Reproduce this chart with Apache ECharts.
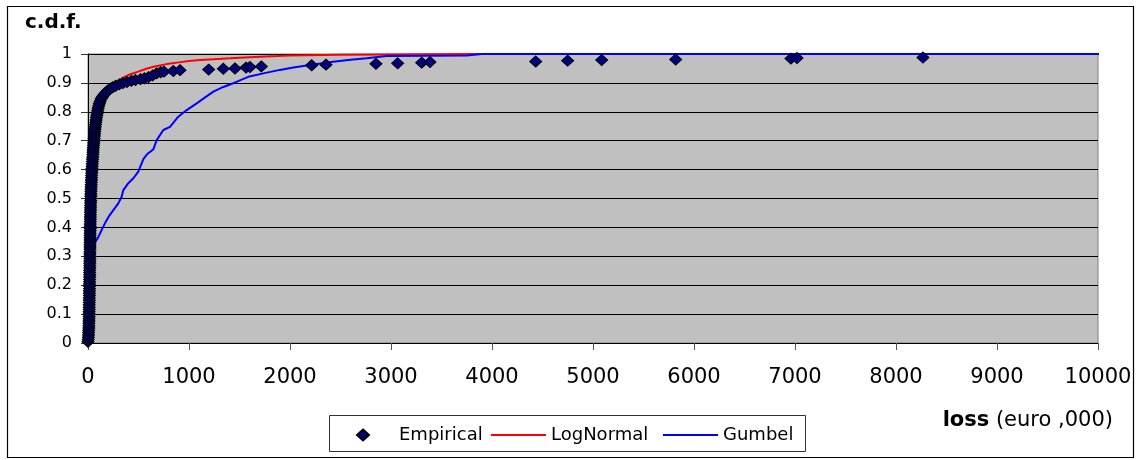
<!DOCTYPE html>
<html><head><meta charset="utf-8">
<script src="https://cdn.jsdelivr.net/npm/echarts@6/dist/echarts.min.js"></script>
<style>html,body{margin:0;padding:0;background:#fff}#c{width:1142px;height:460px}</style>
</head><body><div id="c"></div><script>
// ---- data ----
const seriesNames = ['Empirical', 'LogNormal', 'Gumbel'];
const yTickLabels = ['0','0.1','0.2','0.3','0.4','0.5','0.6','0.7','0.8','0.9','1'];
const xTickLabels = ['0','1000','2000','3000','4000','5000','6000','7000','8000','9000','10000'];

const empLoss = [0,2,4,5,6,7,8,9,9,10,10,11,11,11,12,12,12,13,13,13,14,14,14,15,15,15,16,16,16,17,
  17,17,18,18,18,18,19,19,19,19,20,20,20,20,21,21,21,21,22,22,22,22,23,23,23,24,24,25,25,26,
  26,27,27,28,28,29,30,31,32,33,34,35,36,37,38,39,41,42,44,45,47,48,50,51,53,55,57,59,61,63,
  65,67,70,72,75,78,81,84,88,92,96,101,106,112,
  120,130,140,152,165,180,198,220,245,275,310,345,385,430,470,520,560,600,640,680,720,752,845,911,
  1195,1340,1455,1565,1604,1716,2215,2356,2851,3066,3304,3386,4433,4749,5086,5819,6960,7020,8267];
const empCdf = [0.004,0.012,0.020,0.028,0.036,0.044,0.052,0.060,0.068,0.076,0.084,0.092,0.100,0.108,0.116,0.124,0.132,0.140,0.148,0.156,0.164,0.172,0.180,0.188,0.196,0.204,0.212,0.220,0.228,0.236,
  0.244,0.252,0.260,0.268,0.276,0.284,0.292,0.300,0.308,0.316,0.324,0.332,0.340,0.348,0.356,0.364,0.372,0.380,0.388,0.396,0.404,0.412,0.420,0.428,0.436,0.444,0.452,0.460,0.468,0.476,
  0.484,0.492,0.500,0.508,0.516,0.524,0.532,0.540,0.548,0.556,0.564,0.572,0.580,0.588,0.596,0.604,0.612,0.620,0.628,0.636,0.644,0.652,0.660,0.668,0.676,0.684,0.692,0.700,0.708,0.716,
  0.724,0.732,0.740,0.748,0.756,0.764,0.772,0.780,0.788,0.796,0.804,0.812,0.820,0.828,
  0.836,0.844,0.850,0.856,0.862,0.868,0.874,0.880,0.885,0.890,0.895,0.899,0.903,0.907,0.910,0.913,0.916,0.920,0.926,0.933,0.937,0.939,0.941,0.944,
  0.946,0.949,0.950,0.953,0.955,0.957,0.961,0.963,0.966,0.968,0.970,0.972,0.974,0.977,0.979,0.981,0.984,0.986,0.988];

const lnLoss = [0,3,8,15,30,55,90,140,200,270,350,420,498,570,647,779,900,1000,1109,1250,1406,1600,1868,2000,2500,2950,3850,10090];
const lnCdf  = [0,0.15,0.30,0.45,0.60,0.70,0.78,0.84,0.875,0.90,0.919,0.930,0.939,0.948,0.956,0.965,0.971,0.976,0.979,0.982,0.985,0.989,0.993,0.995,0.997,0.998,1.0,1.0];

const gbLoss = [60,96,135,168,210,251,300,333,350,399,449,498,548,590,647,680,746,812,894,977,1076,1160,1241,1340,1439,1587,1736,1900,2033,2198,2426,2600,2759,2957,3750,3900,10090];
const gbCdf  = [0.345,0.362,0.391,0.414,0.440,0.460,0.483,0.506,0.529,0.553,0.570,0.593,0.636,0.655,0.670,0.702,0.737,0.748,0.783,0.806,0.829,0.850,0.870,0.886,0.899,0.921,0.933,0.945,0.953,0.962,0.973,0.980,0.985,0.993,0.995,1.0,1.0];

const FONT = 'DejaVu Sans';
const LINE_ICON = 'path://M0,0L55,0L55,2L0,2Z';
const DIAMOND_ICON = 'path://M6,0L12,5.5L6,11L0,5.5Z';
const chart = echarts.init(document.getElementById('c'), null, {renderer: 'canvas'});
const pairs = (xs, ys) => xs.map((x, i) => [x, ys[i]]);
const legendText = {fontFamily: FONT, fontSize: 18, color: '#000'};

chart.setOption({
  animation: false,
  backgroundColor: '#ffffff',
  grid: {left: 88, top: 54, width: 1010, height: 289, show: true,
         backgroundColor: '#c0c0c0', borderColor: '#808080', borderWidth: 1},
  xAxis: {
    type: 'value', min: 0, max: 10000, interval: 1000,
    axisLine: {show: true, onZero: false, lineStyle: {color: '#000', width: 1}},
    axisTick: {show: true, length: 7, lineStyle: {color: '#555'}},
    splitLine: {show: false},
    axisLabel: {margin: 24, fontSize: 21, fontFamily: FONT, color: '#000',
                formatter: v => xTickLabels[Math.round(v / 1000)]}
  },
  yAxis: {
    type: 'value', min: 0, max: 1, interval: 0.1,
    axisLine: {show: true, lineStyle: {color: '#000', width: 1}},
    axisTick: {show: true, length: 7, lineStyle: {color: '#333'}},
    splitLine: {show: true, lineStyle: {color: '#000', width: 1}},
    axisLabel: {margin: 16, fontSize: 16, fontFamily: FONT, color: '#000',
                formatter: v => yTickLabels[Math.round(v * 10)]}
  },
  legend: [
    {data: [{name: seriesNames[0], icon: DIAMOND_ICON}], left: 356, top: 426, padding: 0,
     itemWidth: 12, itemHeight: 11, symbolKeepAspect: true,
     textStyle: Object.assign({padding: [0, 0, 0, 25]}, legendText)},
    {data: [{name: seriesNames[1], icon: LINE_ICON}], left: 491, top: 426, padding: 0,
     itemWidth: 55, itemHeight: 11, symbolKeepAspect: true, textStyle: legendText},
    {data: [{name: seriesNames[2], icon: LINE_ICON}], left: 663, top: 426, padding: 0,
     itemWidth: 55, itemHeight: 11, symbolKeepAspect: true, textStyle: legendText}
  ],
  graphic: [
    {type: 'rect', silent: true, shape: {x: 7.5, y: 6.5, width: 1126, height: 451},
     style: {fill: 'none', stroke: '#000', lineWidth: 1.2}},
    {type: 'rect', silent: true, shape: {x: 329.5, y: 415.5, width: 476, height: 36},
     style: {fill: 'none', stroke: '#333', lineWidth: 1}},
    {type: 'text', silent: true, x: 25, y: 23,
     style: {text: 'c.d.f.', font: 'bold 20px "DejaVu Sans"', fill: '#000', verticalAlign: 'middle'}},
    {type: 'text', silent: true, x: 1113, y: 421,
     style: {text: '{b|loss} (euro ,000)', font: '21px "DejaVu Sans"', fill: '#000',
             align: 'right', verticalAlign: 'middle',
             rich: {b: {fontWeight: 'bold', fontSize: 21, fontFamily: FONT, fill: '#000'}}}}
  ],
  series: [
    {name: 'LogNormal', type: 'line', data: pairs(lnLoss, lnCdf), symbol: 'none', clip: false,
     lineStyle: {color: '#ff0000', width: 2}, itemStyle: {color: '#ff0000'}, z: 2},
    {name: 'Gumbel', type: 'line', data: pairs(gbLoss, gbCdf), symbol: 'none', clip: false,
     lineStyle: {color: '#0000ff', width: 2}, itemStyle: {color: '#0000ff'}, z: 2},
    {name: 'Empirical', type: 'scatter', data: pairs(empLoss, empCdf), symbol: 'diamond',
     symbolSize: [12, 11], itemStyle: {color: '#000080', borderColor: '#000', borderWidth: 1, opacity: 1}, z: 3}
  ]
});
</script></body></html>
